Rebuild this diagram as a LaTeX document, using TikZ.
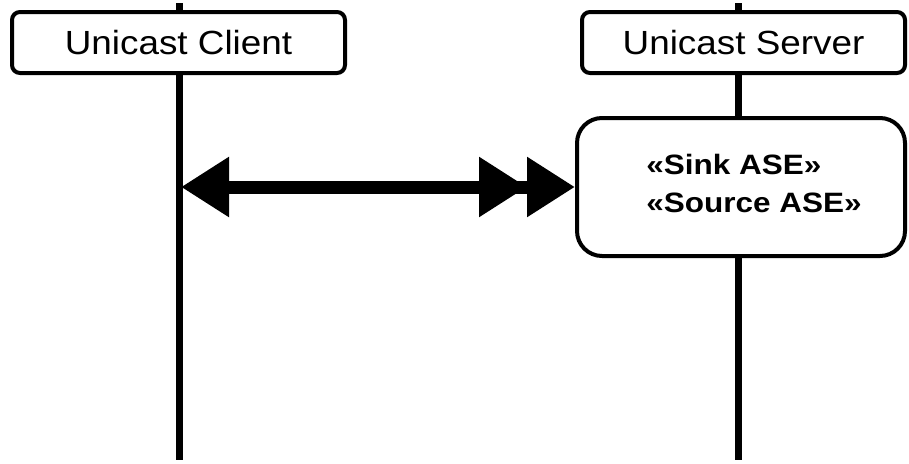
\documentclass[tikz,border=0pt]{standalone}
\usepackage{fontspec}
\setmainfont{Liberation Sans}
\usetikzlibrary{arrows.meta}
\begin{document}
\begin{tikzpicture}[x=1pt,y=-1pt,
  lifeline/.style={line width=7pt},
  headbox/.style={draw, line width=4pt, rounded corners=8pt, fill=white, inner sep=0pt,
    minimum height=61pt, font=\fontsize{33.5}{36}\selectfont},
  asebox/.style={draw, line width=4pt, rounded corners=25pt, fill=white, inner sep=0pt,
    minimum width=328pt, minimum height=138pt},
  asetext/.style={align=left, inner sep=0pt, font=\fontsize{28}{38}\selectfont\bfseries},
  msg/.style={line width=13pt, {Triangle[length=48pt,width=57pt]}-{Triangle[length=48pt,width=57pt] Triangle[length=48pt,width=57pt]}, shorten <=0pt, shorten >=0pt}
]
\useasboundingbox (0,0) rectangle (909,463);
% lifelines
\coordinate (ctop) at (179,3);
\coordinate (cbot) at (179,460);
\coordinate (stop) at (738,3);
\coordinate (sbot) at (738,460);
\draw[lifeline] (ctop) -- (cbot);
\draw[lifeline] (stop) -- (sbot);
% heads
\node[headbox, minimum width=333pt] (client) at (178.5,42.5) {\scalebox{1.10}[1]{Unicast Client}};
\node[headbox, minimum width=323pt] (server) at (743.5,42.5) {\scalebox{1.10}[1]{Unicast Server}};
% ASE box
\node[asebox] (ase) at (741,187) {};
\node[asetext] (asetxt) at (754,183) {\scalebox{1.125}[1]{«Sink ASE»}\\\scalebox{1.125}[1]{«Source ASE»}};
% message
\coordinate (ca) at (181,187);
\draw[msg] (ca) -- (ase.west);
\end{tikzpicture}
\end{document}
